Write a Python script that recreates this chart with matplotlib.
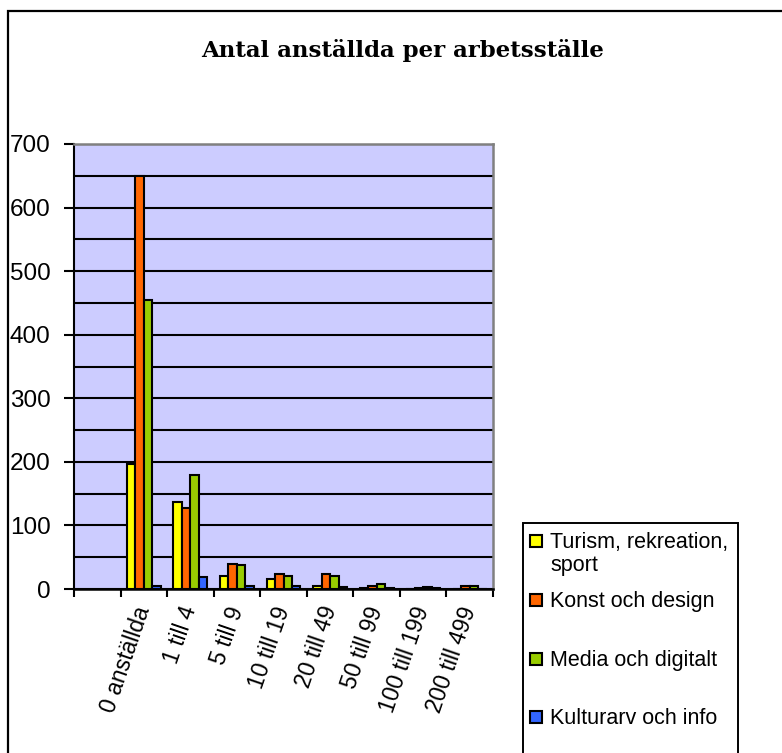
import numpy as np
import matplotlib
matplotlib.use("Agg")
import matplotlib.pyplot as plt
from matplotlib.patches import Rectangle

# Data (antal arbetsställen per storleksklass)
categories = ["0 anställda", "1 till 4", "5 till 9", "10 till 19",
              "20 till 49", "50 till 99", "100 till 199", "200 till 499"]
series_names = ["Turism, rekreation,\nsport", "Konst och design",
                "Media och digitalt", "Kulturarv och info"]
turism = [196, 137, 21, 15, 4, 1, 0, 0]
konst = [650, 127, 39, 23, 23, 5, 1, 5]
media = [454, 180, 38, 21, 20, 8, 3, 4]
kulturarv = [5, 19, 4, 5, 3, 1, 1, 0]
colors = ["#FFFF00", "#FF6600", "#99CC00", "#3366FF"]

title = "Antal anställda per arbetsställe"
sans = ["Liberation Sans", "DejaVu Sans"]

W, H = 782, 753
fig = plt.figure(figsize=(W / 100, H / 100), dpi=100)

# outer chart frame (runs off the right and bottom edge)
fig.patches.append(Rectangle((8 / W, -0.05), 1.2, (H - 11) / H + 0.05,
                             transform=fig.transFigure, fill=False,
                             edgecolor="black", linewidth=1.6, clip_on=False))

ax = fig.add_axes([74 / W, (H - 589) / H, 419 / W, 445 / H])
ax.set_facecolor("#CCCCFF")

all_series = [turism, konst, media, kulturarv]
n = len(all_series)
bw = 1 / (n + 1.5)  # Excel gap width 150 %
x = np.arange(len(categories))
for i, vals in enumerate(all_series):
    ax.bar(x + (i - (n - 1) / 2) * bw, vals, width=bw, color=colors[i],
           edgecolor="black", linewidth=1.5, zorder=3)

# an empty first slot like in the original sheet
ax.set_xlim(-1.5, len(categories) - 0.5)
ax.set_ylim(0, 700)

ax.set_yticks(np.arange(0, 701, 100))
ax.set_yticks(np.arange(50, 701, 100), minor=True)
ax.grid(True, axis="y", which="both", color="black", linewidth=1.5, zorder=1)
ax.tick_params(axis="y", which="major", direction="out", length=7, width=1.5,
               pad=10, labelsize=17.5)
ax.tick_params(axis="y", which="minor", length=0)

ax.set_xticks(np.arange(-1.5, len(categories)), minor=False)
ax.set_xticklabels([])
ax.set_xticks(x, minor=True)
ax.set_xticklabels(categories, minor=True, rotation=71, ha="right",
                   va="center", rotation_mode="anchor")
ax.tick_params(axis="x", which="major", direction="out", length=6, width=1.5)
ax.tick_params(axis="x", which="minor", length=0, pad=13, labelsize=16.5)

for lab in ax.get_xticklabels(minor=True) + ax.get_yticklabels():
    lab.set_fontfamily(sans)

ax.spines["left"].set_color("black")
ax.spines["bottom"].set_color("black")
ax.spines["left"].set_linewidth(1.5)
ax.spines["bottom"].set_linewidth(1.8)
ax.spines["top"].set_color("#808080")
ax.spines["right"].set_color("#808080")
ax.spines["top"].set_linewidth(1.8)
ax.spines["right"].set_linewidth(1.8)

fig.text(403 / W, 1 - 50 / H, title, ha="center", va="center",
         fontsize=16.5, fontweight="bold", family="DejaVu Serif")

# legend box, drawn like the Excel one (also cut off at the bottom)
fig.patches.append(Rectangle((523 / W, -0.05), 215 / W, (H - 523) / H + 0.05,
                             transform=fig.transFigure, fill=False,
                             edgecolor="black", linewidth=1.4, clip_on=False))
leg_y = [541, 600, 659, 717]
for name, col, yy in zip(series_names, colors, leg_y):
    fig.patches.append(Rectangle((530 / W, 1 - (yy + 6) / H), 12 / W, 12 / H,
                                 transform=fig.transFigure, facecolor=col,
                                 edgecolor="black", linewidth=1.5))
    fig.text(550 / W, 1 - (yy - 9) / H, name, ha="left", va="top",
             fontsize=15.5, family=sans, linespacing=1.12)

fig.savefig("out.png", dpi=100)
